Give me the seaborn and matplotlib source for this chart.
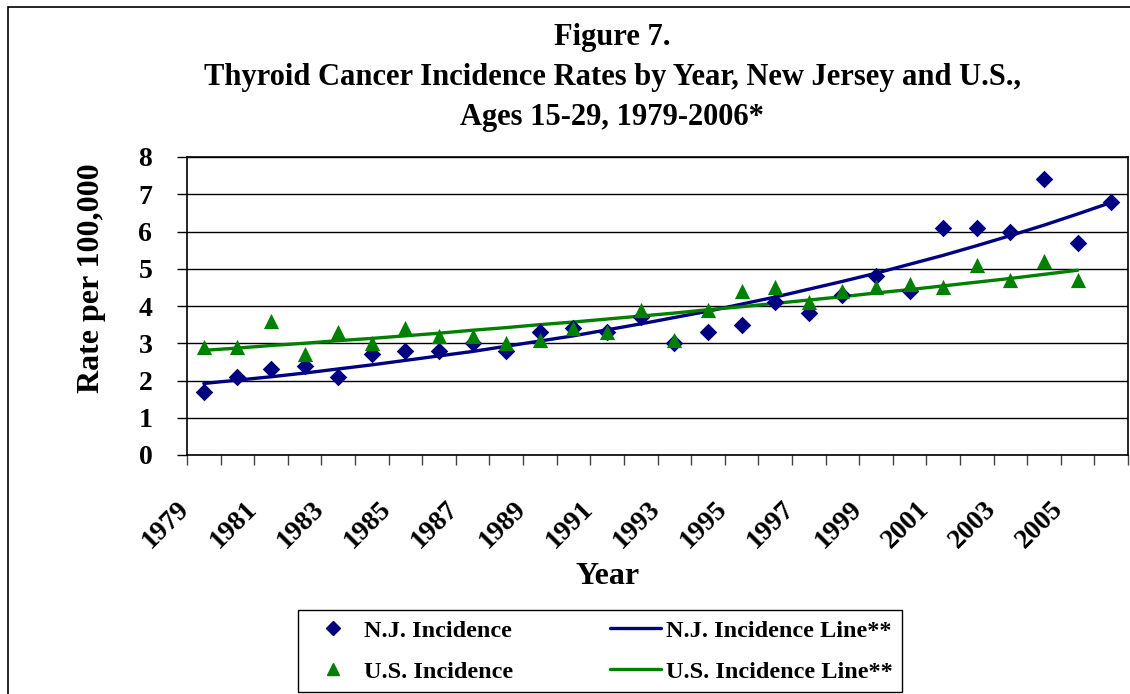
import numpy as np
import pandas as pd
import matplotlib
matplotlib.use("Agg")
import matplotlib.pyplot as plt
import matplotlib.transforms as mtransforms
from matplotlib.patches import Rectangle
from matplotlib.lines import Line2D
import seaborn as sns

# 데이터
years = list(range(1979, 2007))
nj_rate = [1.7, 2.1, 2.3, 2.4, 2.1, 2.7, 2.8, 2.8, 3.0, 2.8, 3.3, 3.4, 3.3, 3.7,
           3.0, 3.3, 3.5, 4.1, 3.8, 4.3, 4.8, 4.4, 6.1, 6.1, 6.0, 7.4, 5.7, 6.8]
us_rate = [2.9, 2.9, 3.6, 2.7, 3.3, 3.0, 3.4, 3.2, 3.2, 3.0, 3.1, 3.4, 3.3, 3.9,
           3.1, 3.9, 4.4, 4.5, 4.1, 4.4, 4.5, 4.6, 4.5, 5.1, 4.7, 5.2, 4.7, np.nan]
nj_line = [1.92, 2.01, 2.10, 2.20, 2.31, 2.42, 2.54, 2.66, 2.78, 2.92, 3.06, 3.20, 3.36, 3.52,
           3.69, 3.86, 4.05, 4.24, 4.45, 4.66, 4.88, 5.12, 5.36, 5.62, 5.89, 6.17, 6.47, 6.78]
us_line = [2.81, 2.87, 2.94, 3.00, 3.07, 3.13, 3.20, 3.27, 3.35, 3.42, 3.50, 3.57, 3.65, 3.73,
           3.81, 3.90, 3.98, 4.07, 4.16, 4.25, 4.35, 4.44, 4.54, 4.64, 4.74, 4.85, 4.96, np.nan]
tick_years = list(range(1979, 2006, 2))

df = pd.DataFrame({"Year": years, "NJ": nj_rate, "US": us_rate,
                   "NJ_line": nj_line, "US_line": us_line})

NAVY = "#000080"
GREEN = "#008000"

sns.set_style("white")
plt.rcParams['font.family'] = ['Liberation Serif', 'DejaVu Serif']
plt.rcParams['font.weight'] = 'bold'
plt.rcParams['text.color'] = 'black'
plt.rcParams['axes.labelcolor'] = 'black'
plt.rcParams['xtick.color'] = 'black'
plt.rcParams['ytick.color'] = 'black'

fig = plt.figure(figsize=(11.3, 6.94), dpi=100)
ax = fig.add_axes([187 / 1130, 1 - 455 / 694, 941 / 1130, 298 / 694])

sns.lineplot(data=df, x="Year", y="NJ_line", color=NAVY, lw=2.4, ax=ax)
sns.lineplot(data=df, x="Year", y="US_line", color=GREEN, lw=2.4, ax=ax)
sns.scatterplot(data=df, x="Year", y="NJ", marker="D", s=80, color=NAVY,
                edgecolor=NAVY, linewidth=0, ax=ax, zorder=3)
sns.scatterplot(data=df, x="Year", y="US", marker="^", s=120, color=GREEN,
                edgecolor=GREEN, linewidth=0, ax=ax, zorder=4)

# 축
ax.set_xlim(1978.5, 2006.5)
ax.set_ylim(0, 8)
ax.set_yticks(range(0, 9))
ax.set_xticks(tick_years)
ax.set_xticks(np.arange(1978.5, 2007, 1), minor=True)
ax.grid(axis="y", color="black", lw=1)
ax.set_axisbelow(True)
for sp in ax.spines.values():
    sp.set_color("black")
    sp.set_linewidth(1.2)
ax.tick_params(axis="y", which="major", length=7, width=1, direction="out",
               left=True, labelsize=20, pad=18, color="black")
ax.tick_params(axis="x", which="major", length=0, labelsize=20, pad=36)
ax.tick_params(axis="x", which="minor", length=7, width=1, direction="out",
               bottom=True, color="#444444")
offset = mtransforms.ScaledTranslation(-18 / 100, 0, fig.dpi_scale_trans)
for lab in ax.get_xticklabels():
    lab.set_rotation(45)
    lab.set_ha("right")
    lab.set_va("center")
    lab.set_rotation_mode("anchor")
    lab.set_fontweight("bold")
    lab.set_transform(lab.get_transform() + offset)
for lab in ax.get_yticklabels():
    lab.set_fontweight("bold")

ax.set_xlabel("Year", fontsize=23, fontweight="bold")
ax.xaxis.set_label_coords(0.447, -0.36)
ax.set_ylabel("Rate per 100,000", fontsize=23, fontweight="bold")
ax.yaxis.set_label_coords(-0.086, 0.594)

# 제목
fig.text(612 / 1130, 1 - 38 / 694, "Figure 7.", ha="center", va="center",
         fontsize=22, fontweight="bold")
fig.text(612 / 1130, 1 - 78 / 694,
         "Thyroid Cancer Incidence Rates by Year, New Jersey and U.S.,",
         ha="center", va="center", fontsize=22, fontweight="bold")
fig.text(612 / 1130, 1 - 118 / 694, "Ages 15-29, 1979-2006*", ha="center",
         va="center", fontsize=22, fontweight="bold")

# 범례
handles = [
    Line2D([], [], ls="none", marker="D", ms=7, color=NAVY),
    Line2D([], [], ls="none", marker="^", ms=9, color=GREEN),
    Line2D([], [], color=NAVY, lw=2.4),
    Line2D([], [], color=GREEN, lw=2.4),
]
labels = ["N.J. Incidence", "U.S. Incidence",
          "N.J. Incidence Line**", "U.S. Incidence Line**"]
leg = fig.legend(handles, labels, loc="upper left",
                 bbox_to_anchor=(298 / 1130, 1 - 610 / 694), ncol=2,
                 frameon=True, fancybox=False, framealpha=1, edgecolor="black",
                 prop={"size": 17.5, "weight": "bold"}, handlelength=2.1,
                 handletextpad=0.2, columnspacing=4.0, labelspacing=0.78,
                 borderpad=0.4, borderaxespad=0)
leg.get_frame().set_linewidth(1)

# 바깥 테두리
fig.add_artist(Rectangle((8 / 1130, -0.05), 1.05, 1 - 7 / 694 + 0.05,
                         transform=fig.transFigure, fill=False,
                         ec="black", lw=1.2))

fig.savefig("out.png", dpi=100)
